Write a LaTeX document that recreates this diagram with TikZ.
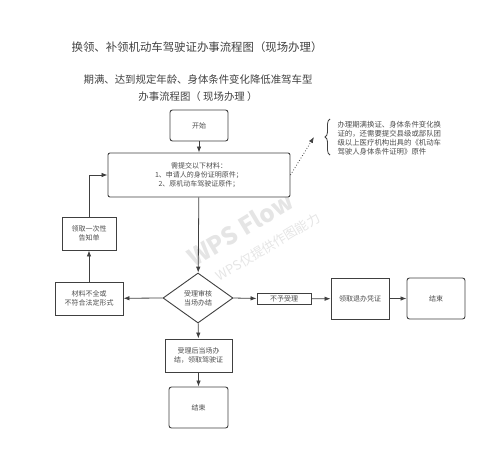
\documentclass[tikz,border=0pt]{standalone}
\usepackage{fontspec}
\setmainfont{Noto Sans CJK SC}
\usetikzlibrary{arrows.meta,shapes.geometric,decorations.pathreplacing}

\tikzset{
    box/.style={draw=black!75, line width=0.9pt, fill=white, align=center,
        text=black!70, font=\fontsize{7}{9}\selectfont, inner sep=1pt},
    rbox/.style={box, rounded corners=2.5pt},
    dia/.style={box, diamond, aspect=1.4, minimum width=70pt, minimum height=50pt},
    arr/.style={draw=black!75, line width=0.8pt, -{Latex[length=6pt,width=4.5pt]}},
    wmark/.style={text=black!10, rotate=31, inner sep=0pt}
}

\begin{document}
\begin{tikzpicture}[x=1pt,y=-1pt]

    \useasboundingbox (0,0) rectangle (500,464);

    % titles
    \node[text=black!75, font=\fontsize{11.4}{14}\selectfont] (title) at (197,47)
        {换领、补领机动车驾驶证办事流程图（现场办理）};
    \node[text=black!75, font=\fontsize{10.4}{17}\selectfont, align=center] (subtitle) at (198,88)
        {期满、达到规定年龄、身体条件变化降低准驾车型\\办事流程图（ 现场办理 ）};

    % watermark
    \node[wmark, font=\bfseries\fontsize{24}{26}\selectfont] (wmA) at (240,229) {WPS Flow};
    \node[wmark, font=\fontsize{13}{15}\selectfont] (wmB) at (268,247) {WPS仅提供作图能力};

    % main column
    \node[rbox, minimum width=58pt, minimum height=31pt] (start) at (199,125.5) {开始};
    \node[rbox, rounded corners=2pt, minimum width=182pt, minimum height=44pt] (need) at (199,175)
        {需提交以下材料：\\1、申请人的身份证明原件；\\2、原机动车驾驶证原件；};
    \node[dia] (check) at (198,298) {受理审核\\当场办结};
    \node[box, minimum width=67pt, minimum height=33pt] (accept) at (198.5,355.5)
        {受理后当场办\\结，领取驾驶证};
    \node[rbox, minimum width=59pt, minimum height=41pt] (endA) at (198.5,407.5) {结束};

    % left branch
    \node[box, minimum width=68pt, minimum height=33pt] (lack) at (89,298.5)
        {材料不全或\\不符合法定形式};
    \node[box, minimum width=54pt, minimum height=33pt] (notice) at (89,233.5)
        {领取一次性\\告知单};

    % right branch
    \node[box, minimum width=54pt, minimum height=11pt, inner sep=0pt] (reject) at (284,299) {不予受理};
    \node[box, minimum width=58pt, minimum height=41pt] (voucher) at (360,298.5) {领取退办凭证};
    \node[rbox, minimum width=58pt, minimum height=41pt] (endB) at (436,298.5) {结束};

    % note with brace
    \node[text=black!70, font=\fontsize{7.4}{9.2}\selectfont, align=left, anchor=west] (note) at (334,138)
        {办理期满换证、身体条件变化换\\证的，还需要提交县级或部队团\\级以上医疗机构出具的《机动车\\驾驶人身体条件证明》原件};
    \coordinate (braceLo) at (330,155);
    \coordinate (braceHi) at (330,119);
    \draw[black!75, line width=0.8pt, decorate, decoration={brace, amplitude=5pt}]
        (braceLo) -- (braceHi);
    \coordinate (noteTip) at (314,137);

    % connectors
    \draw[arr] (start) -- (need);
    \draw[arr] (need) -- (check);
    \draw[arr] (check) -- (accept);
    \draw[arr] (accept) -- (endA);
    \draw[arr] (check.west) -- (lack);
    \draw[arr] (lack) -- (notice);
    \draw[arr] (notice.north) |- (need.west);
    \draw[arr] (check.east) -- (reject);
    \draw[arr] (reject) -- (voucher);
    \draw[arr] (voucher) -- (endB);
    \draw[arr, dotted] (need.east) -- (noteTip);

\end{tikzpicture}
\end{document}
